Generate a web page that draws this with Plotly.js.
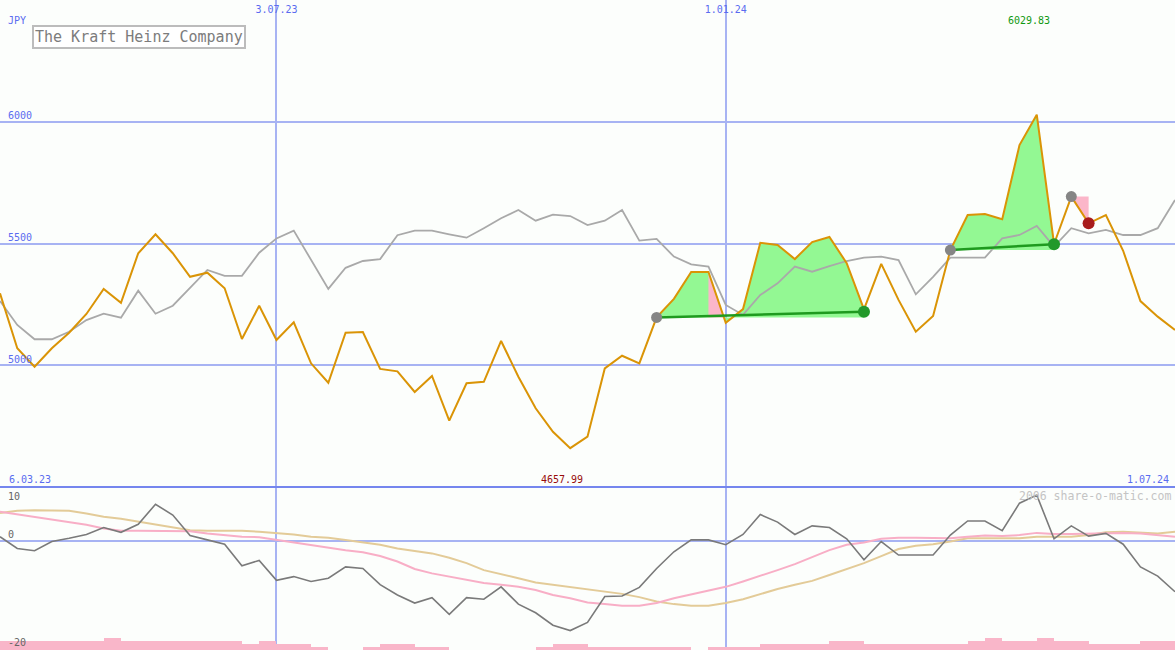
<!DOCTYPE html>
<html>
<head>
<meta charset="utf-8">
<script src="https://cdn.plot.ly/plotly-3.0.1.min.js"></script>
<style>
html,body{margin:0;padding:0;background:#fcfefc;}
#chart{width:1175px;height:650px;}
</style>
</head>
<body>
<div id="chart"></div>
<script>
// ---- data (weekly) ----
const firstWeek = '2023-03-13';
const weekCount = 69;

const price = [5295,5069,4993,5069,5133,5210,5313,5256,5460,5538,
  5460,5363,5380,5316,5107,5244,5103,5176,5007,4927,
  5133,5136,4984,4974,4889,4955,4771,4925,4931,5099,
  4952,4822,4725,4657.99,4705,4986,5038,5007,5196,5272,
  5383,5383,5174,5230,5503,5494,5436,5506,5527,5419,
  5229,5416,5268,5137,5202,5473,5617,5621,5600,5905,
  6029.83,5498,5693,5583,5617,5470,5263,5199,5144];

const average = [5263,5165,5106,5106,5137,5185,5211,5195,5306,5211,
  5244,5316,5391,5367,5367,5462,5521,5553,5432,5313,
  5400,5428,5436,5534,5553,5553,5538,5524,5563,5604,
  5638,5594,5619,5613,5576,5594,5638,5512,5519,5446,
  5414,5405,5247,5206,5288,5336,5405,5384,5407,5428,
  5442,5446,5432,5291,5363,5442,5442,5442,5521,5535,
  5572,5487,5563,5542,5556,5535,5535,5563,5679];

const momentum = [0.8,-1.4,-1.8,-0.1,0.5,1.2,2.5,1.6,3.1,6.8,
  4.8,1.0,0.2,-0.6,-4.6,-3.6,-7.3,-6.6,-7.5,-6.9,
  -4.8,-5.1,-8.1,-10,-11.5,-10.5,-13.6,-10.5,-10.8,-8.5,
  -11.7,-13.3,-15.6,-16.6,-15.1,-10.3,-10.2,-8.6,-5.1,-2.0,
  0.2,0.2,-0.7,1.2,4.9,3.5,1.2,2.8,2.5,0.4,
  -3.5,-0.1,-2.6,-2.6,-2.6,1.1,3.7,3.7,1.9,7.0,
  8.5,0.4,2.8,0.9,1.4,-0.6,-4.8,-6.5,-9.4];

const signal = [5.4,4.9,4.5,4.0,3.5,3.0,2.3,1.9,1.9,1.9,
  1.9,1.8,1.4,1.1,0.8,0.7,0.2,-0.3,-0.7,-1.2,
  -1.7,-2.1,-2.8,-3.8,-5.2,-6.0,-6.6,-7.2,-7.8,-8.1,
  -8.5,-9.1,-10,-10.6,-11.4,-11.7,-12,-12,-11.5,-10.6,
  -9.9,-9.1,-8.5,-7.5,-6.5,-5.4,-4.3,-3.0,-1.7,-0.7,
  -0.3,0.4,0.6,0.6,0.5,0.5,0.8,1.0,0.9,1.1,
  1.5,1.3,1.3,1.4,1.5,1.5,1.4,1.1,0.8];

const slowSignal = [5.2,5.6,5.7,5.7,5.6,5.1,4.5,4.1,3.6,3.1,
  2.5,2.0,1.9,1.9,1.9,1.7,1.5,1.2,0.8,0.6,
  0.2,-0.3,-0.7,-1.4,-1.9,-2.3,-3.1,-4.1,-5.4,-6.1,
  -6.9,-7.7,-8.1,-8.6,-8.9,-9.3,-9.8,-10.4,-11.2,-11.7,
  -12,-12,-11.5,-10.8,-9.8,-8.9,-8.1,-7.4,-6.3,-5.2,
  -4.1,-2.8,-1.5,-0.9,-0.6,-0.1,0.5,0.5,0.5,0.5,
  0.8,0.8,0.8,1.1,1.6,1.7,1.5,1.4,1.7];

const volume = [3,3,3,3,3,3,4,3,3,3,
  3,3,3,3,2,3,2,2,1,0,
  0,1,2,2,1,1,0,0,0,0,
  0,1,2,2,1,1,1,1,1,1,
  0,1,1,1,2,2,2,2,3,3,
  2,2,2,2,2,2,3,4,3,3,
  4,3,3,2,2,2,3,3,3];

// trades (week indexes and exit levels)
const longEntry = [38, 55];
const longExit = [50, 61];
const longExitLevel = [5219, 5497];
const lossSegStart = [41];      // pink part of first long trade
const shortEntry = [62];
const shortExit = [63];

const dateTicks = ['2023-07-03', '2024-01-01'];
const dateTickText = ['3.07.23', '1.01.24'];
const priceTicks = [5000, 5500, 6000];
const startLabel = '6.03.23';
const endLabel = '1.07.24';
const maxLabel = '6029.83';
const minLabel = '4657.99';
const company = 'The Kraft Heinz Company';
const currency = 'JPY';

// ---- helpers ----
const DAY = 86400000;
const t0 = Date.parse(firstWeek + 'T00:00:00Z');
const ms = i => t0 + i * 7 * DAY;
const fmt = m => new Date(m).toISOString().replace('T', ' ').replace('Z', '');
const dates = [];
for (let i = 0; i < weekCount; i++) dates.push(fmt(ms(i)));

const MONO = 'DejaVu Sans Mono, monospace';
const GRID = '#a7b3f3';
const traces = [];

// volume bars (lower panel, own hidden axis)
traces.push({
  type: 'bar', x: volume.map((v, i) => fmt(ms(i) + 3.5 * DAY)), y: volume,
  width: 7 * DAY, marker: {color: '#f9b6c9', line: {width: 0}},
  xaxis: 'x', yaxis: 'y3', hoverinfo: 'skip'
});
// lower panel lines
traces.push({type: 'scatter', mode: 'lines', x: dates, y: slowSignal, xaxis: 'x', yaxis: 'y2',
  line: {color: '#e3cb98', width: 2}});
traces.push({type: 'scatter', mode: 'lines', x: dates, y: signal, xaxis: 'x', yaxis: 'y2',
  line: {color: '#f8aec6', width: 2}});
traces.push({type: 'scatter', mode: 'lines', x: dates, y: momentum, xaxis: 'x', yaxis: 'y2',
  line: {color: '#7a7a7a', width: 1.6}});

// green profit fills of long trades
longEntry.forEach((e, k) => {
  const x = longExit[k];
  const base = price[e];
  const px = [], py = [];
  for (let i = e; i <= x; i++) { px.push(dates[i]); py.push(price[i]); }
  px.push(dates[x], dates[e]); py.push(base, base);
  traces.push({type: 'scatter', mode: 'lines', x: px, y: py, fill: 'toself',
    fillcolor: '#93f893', line: {width: 0}, xaxis: 'x', yaxis: 'y', hoverinfo: 'skip'});
});
// pink part inside first trade
lossSegStart.forEach(s => {
  const base = price[longEntry[0]];
  const t = (price[s] - base) / (price[s] - price[s + 1]);
  const xc = fmt(ms(s) + t * (ms(s + 1) - ms(s)));
  traces.push({type: 'scatter', mode: 'lines', x: [dates[s], xc, dates[s], dates[s]],
    y: [price[s], base, base, price[s]], fill: 'toself', fillcolor: '#fbb6c9',
    line: {width: 0}, xaxis: 'x', yaxis: 'y', hoverinfo: 'skip'});
});
// pink loss of short trade
shortEntry.forEach((e, k) => {
  const x = shortExit[k];
  traces.push({type: 'scatter', mode: 'lines', x: [dates[e], dates[x], dates[x], dates[e]],
    y: [price[e], price[e], price[x], price[e]], fill: 'toself', fillcolor: '#fbb6c9',
    line: {width: 0}, xaxis: 'x', yaxis: 'y', hoverinfo: 'skip'});
});

// average and price lines
traces.push({type: 'scatter', mode: 'lines', x: dates, y: average, xaxis: 'x', yaxis: 'y',
  line: {color: '#a9a9a9', width: 1.8}});
traces.push({type: 'scatter', mode: 'lines', x: dates, y: price, xaxis: 'x', yaxis: 'y',
  line: {color: '#da9406', width: 2}});

// trade lines
longEntry.forEach((e, k) => {
  traces.push({type: 'scatter', mode: 'lines', x: [dates[e], dates[longExit[k]]],
    y: [price[e], longExitLevel[k]], line: {color: '#1f9a1f', width: 2.5}, xaxis: 'x', yaxis: 'y'});
});
// entry dots
const entries = longEntry.concat(shortEntry);
traces.push({type: 'scatter', mode: 'markers', x: entries.map(i => dates[i]), y: entries.map(i => price[i]),
  marker: {color: '#858585', size: 11}, xaxis: 'x', yaxis: 'y'});
// long exit dots
traces.push({type: 'scatter', mode: 'markers', x: longExit.map(i => dates[i]), y: longExitLevel,
  marker: {color: '#22992a', size: 12}, xaxis: 'x', yaxis: 'y'});
// short exit dot
traces.push({type: 'scatter', mode: 'markers', x: shortExit.map(i => dates[i]), y: shortExit.map(i => price[i]),
  marker: {color: '#a81c1c', size: 12}, xaxis: 'x', yaxis: 'y'});

const H = 650, W = 1175;
const py = y => 1 - y / H;
const split = py(487);
const iMax = price.indexOf(Math.max(...price));
const iMin = price.indexOf(Math.min(...price));

const annotations = [
  {text: currency, xref: 'paper', yref: 'paper', x: 6 / W, y: py(20), xanchor: 'left', yanchor: 'middle',
   showarrow: false, font: {family: MONO, size: 10, color: '#5a6cf0'}},
  {text: company, xref: 'paper', yref: 'paper', x: 32 / W, y: py(25), xanchor: 'left', yanchor: 'top',
   showarrow: false, bgcolor: '#ffffff', bordercolor: '#bcbcbc', borderwidth: 2, borderpad: 1,
   font: {family: MONO, size: 15, color: '#7c7c7c'}},
  {text: maxLabel, xref: 'x', yref: 'paper', x: dates[iMax], xshift: -8, y: py(20), yanchor: 'middle',
   showarrow: false, font: {family: MONO, size: 10, color: '#119911'}},
  {text: minLabel, xref: 'x', yref: 'paper', x: dates[iMin], xshift: -8, y: py(479), yanchor: 'middle',
   showarrow: false, font: {family: MONO, size: 10, color: '#990c0c'}},
  {text: startLabel, xref: 'paper', yref: 'paper', x: 7 / W, y: py(479), xanchor: 'left', yanchor: 'middle',
   showarrow: false, font: {family: MONO, size: 10, color: '#5a6cf0'}},
  {text: endLabel, xref: 'paper', yref: 'paper', x: 1171 / W, y: py(479), xanchor: 'right', yanchor: 'middle',
   showarrow: false, font: {family: MONO, size: 10, color: '#5a6cf0'}},
  {text: '2006 share-o-matic.com', xref: 'paper', yref: 'paper', x: 1173 / W, y: py(496), xanchor: 'right', yanchor: 'middle',
   showarrow: false, font: {family: MONO, size: 11.5, color: '#c4c4c4'}},
  {text: '10', xref: 'paper', yref: 'paper', x: 6 / W, y: py(496), xanchor: 'left', yanchor: 'middle',
   showarrow: false, font: {family: MONO, size: 10, color: '#666666'}},
  {text: '-20', xref: 'paper', yref: 'paper', x: 6 / W, y: py(642), xanchor: 'left', yanchor: 'middle',
   showarrow: false, font: {family: MONO, size: 10, color: '#666666'}}
];

const layout = {
  width: W, height: H,
  margin: {l: 0, r: 0, t: 0, b: 0, pad: 0},
  paper_bgcolor: '#fcfefc', plot_bgcolor: '#fcfefc',
  showlegend: false, hovermode: false, bargap: 0,
  font: {family: MONO},
  xaxis: {
    type: 'date', range: [dates[0], dates[weekCount - 1]], side: 'top',
    tickmode: 'array', tickvals: dateTicks, ticktext: dateTickText,
    ticklabelposition: 'inside', ticks: '', showline: false, zeroline: false,
    showgrid: true, gridcolor: GRID, gridwidth: 2,
    tickfont: {family: MONO, size: 10, color: '#5a6cf0'}, ticklabelstandoff: 3, fixedrange: true
  },
  yaxis: {
    domain: [split, 1], range: [4498, 6502],
    tickmode: 'array', tickvals: priceTicks, ticktext: priceTicks.map(String),
    ticklabelposition: 'inside', ticks: '', showline: false, zeroline: false,
    showgrid: true, gridcolor: GRID, gridwidth: 2, ticklabelshift: -6, ticklabelstandoff: 5,
    tickfont: {family: MONO, size: 10, color: '#5a6cf0'}, fixedrange: true
  },
  yaxis2: {
    domain: [0, split], range: [-20.2, 10], anchor: 'x',
    tickmode: 'array', tickvals: [0], ticktext: ['0'],
    ticklabelposition: 'inside', ticks: '', showline: false, zeroline: false,
    showgrid: true, gridcolor: GRID, gridwidth: 2, ticklabelshift: -6, ticklabelstandoff: 5,
    tickfont: {family: MONO, size: 10, color: '#666666'}, fixedrange: true
  },
  yaxis3: {overlaying: 'y2', range: [0, 54.3], visible: false, fixedrange: true},
  shapes: [
    {type: 'line', xref: 'paper', yref: 'paper', x0: 0, x1: 1, y0: split, y1: split,
     line: {color: '#7586ee', width: 2}}
  ],
  annotations: annotations
};

Plotly.newPlot('chart', traces, layout, {staticPlot: true, displayModeBar: false});
</script>
</body>
</html>
